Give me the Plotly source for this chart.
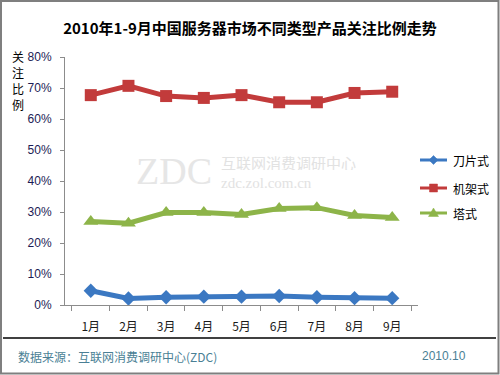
import plotly.graph_objects as go

months = ["1月", "2月", "3月", "4月", "5月", "6月", "7月", "8月", "9月"]
blade = [0.046, 0.021, 0.025, 0.027, 0.027, 0.029, 0.025, 0.022, 0.022]
rack = [0.677, 0.707, 0.674, 0.668, 0.677, 0.654, 0.654, 0.684, 0.688]
tower = [0.269, 0.264, 0.298, 0.298, 0.292, 0.311, 0.314, 0.289, 0.282]
series_names = ["刀片式", "机架式", "塔式"]
ytitle_chars = ["关", "注", "比", "例"]

W, H = 500, 375
L, R, T, B = 65, 418, 57, 305


def px(x):
    return (x - L) / (R - L)


def py(y):
    return (B - y) / (B - T)


CJK = "Noto Sans CJK SC, Arial, sans-serif"
colors = ["#3b78c2", "#c23b3b", "#8db449"]
symbols = ["diamond", "square", "triangle-up"]
sizes = [11, 12, 13]

fig = go.Figure()
for name, vals, col, sym, sz in zip(series_names, [blade, rack, tower], colors, symbols, sizes):
    fig.add_trace(go.Scatter(
        x=months, y=vals, name=name, mode="lines+markers",
        line=dict(color=col, width=5),
        marker=dict(symbol=sym, size=sz, color=col),
        showlegend=False, cliponaxis=False,
    ))

fig.update_layout(
    template="none",
    width=W, height=H, autosize=False,
    margin=dict(l=L, r=W - R, t=T, b=H - B, pad=0, autoexpand=False),
    paper_bgcolor="white", plot_bgcolor="white",
    font=dict(family=CJK, size=12, color="black"),
    title=dict(text="<b>2010年1-9月中国服务器市场不同类型产品关注比例走势</b>",
               x=0.5, xanchor="center", y=1 - 29 / H, yanchor="middle",
               font=dict(size=15, color="black", family=CJK)),
    showlegend=False,
    xaxis=dict(showline=True, linecolor="#8c8c8c", linewidth=1,
               ticks="outside", tickson="boundaries", ticklen=5, tickcolor="#8c8c8c",
               showgrid=False, zeroline=False,
               tickfont=dict(size=12, color="#1a1a1a", family=CJK),
               ticklabelstandoff=11, automargin=False, fixedrange=True),
    yaxis=dict(range=[0, 0.8], dtick=0.1, tickformat=".0%",
               showline=True, linecolor="#8c8c8c", linewidth=1,
               ticks="outside", ticklen=4, tickcolor="#8c8c8c",
               showgrid=False, zeroline=False, automargin=False,
               tickfont=dict(size=12, color="#1c1c55", family="Arial"),
               ticklabelstandoff=6, fixedrange=True),
)


def note(x, y, text, size, color, family, xanchor="center", height=None):
    kw = {} if height is None else dict(height=height)
    fig.add_annotation(x=px(x), y=py(y), xref="paper", yref="paper",
                       xanchor=xanchor, yanchor="middle", text=text, showarrow=False,
                       font=dict(size=size, color=color, family=family), **kw)


# manual legend
leg_y = [160, 188, 213]
for name, col, sym, yy in zip(series_names, colors, symbols, leg_y):
    fig.add_shape(type="line", xref="paper", yref="paper",
                  x0=px(420), x1=px(447), y0=py(yy), y1=py(yy),
                  line=dict(color=col, width=3))
    cx = 433.5
    if sym == "diamond":
        d = 4.5
        path = (f"M {px(cx)} {py(yy - d)} L {px(cx + d)} {py(yy)} "
                f"L {px(cx)} {py(yy + d)} L {px(cx - d)} {py(yy)} Z")
    elif sym == "square":
        d = 4
        path = (f"M {px(cx - d)} {py(yy - d)} L {px(cx + d)} {py(yy - d)} "
                f"L {px(cx + d)} {py(yy + d)} L {px(cx - d)} {py(yy + d)} Z")
    else:
        d = 5
        path = (f"M {px(cx)} {py(yy - d)} L {px(cx + d)} {py(yy + 3.5)} "
                f"L {px(cx - d)} {py(yy + 3.5)} Z")
    fig.add_shape(type="path", xref="paper", yref="paper", path=path,
                  fillcolor=col, line=dict(color=col, width=0.5))
    note(451, yy, name, 12, "black", CJK, xanchor="left")

# watermark
note(134, 171, "ZDC", 38, "#e6e6e6", "Liberation Serif", xanchor="left", height=30)
note(219, 162, "互联网消费调研中心", 15, "#e2e2e2", CJK, xanchor="left", height=15)
note(219, 182, "zdc.zol.com.cn", 15, "#e2e2e2", "Liberation Serif", xanchor="left", height=15)

# y-axis title, stacked characters
for ch, yy in zip(ytitle_chars, [56, 72, 88, 104]):
    note(18, yy, ch, 12, "black", CJK, height=14)

# footer
note(16, 356, "数据来源：互联网消费调研中心(ZDC)", 12, "#4a7f95", CJK, xanchor="left")
note(468, 356, "2010.10", 12, "#4a7f95", "Arial", xanchor="right")

# frame and separator
fig.add_shape(type="rect", xref="paper", yref="paper",
              x0=px(1), x1=px(498.5), y0=py(373.5), y1=py(1),
              line=dict(color="#7f7f7f", width=2), layer="above")
fig.add_shape(type="line", xref="paper", yref="paper",
              x0=px(3), x1=px(496), y0=py(338), y1=py(338),
              line=dict(color="black", width=1.5))

fig.write_html("out.html", config={"displayModeBar": False},
               post_script="document.body.style.margin='0';document.body.style.overflow='hidden';")
